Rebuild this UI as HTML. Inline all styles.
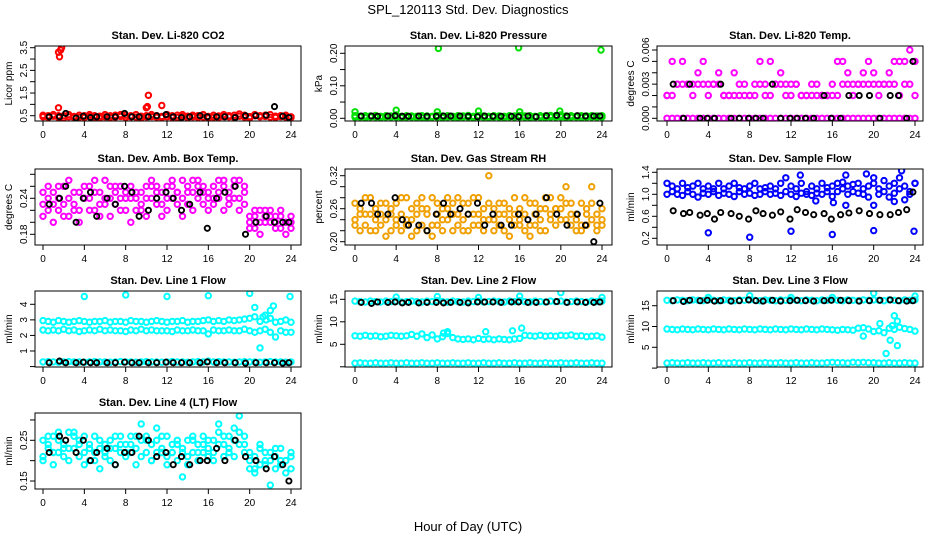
<!DOCTYPE html>
<html><head><meta charset="utf-8">
<style>
html,body{margin:0;padding:0;background:#fff;}
svg{display:block;font-family:"Liberation Sans",Arial,sans-serif;}
</style></head>
<body>
<svg id="chart" width="936" height="540" viewBox="0 0 936 540">
<text x="468" y="14" text-anchor="middle" font-size="13">SPL_120113  Std. Dev. Diagnostics</text>
<text x="468" y="531" text-anchor="middle" font-size="13">Hour of Day (UTC)</text>
</svg>
<script>
const hours=[0,0.5,1,1.5,2,2.5,3,3.5,4,4.5,5,5.5,6,6.5,7,7.5,8,8.5,9,9.5,10,10.5,11,11.5,12,12.5,13,13.5,14,14.5,15,15.5,16,16.5,17,17.5,18,18.5,19,19.5,20,20.5,21,21.5,22,22.5,23,23.5,24];
const blackHours=[0.6,1.6,2.2,3.2,3.9,4.6,5.2,6.2,7.0,7.9,8.6,9.3,10.2,11.0,11.9,12.6,13.4,14.2,15.2,15.9,16.8,17.6,18.6,19.6,20.6,21.6,22.4,23.2,23.8];
const xTicks=[0,4,8,12,16,20,24];

// Panel 1 CO2
const co2A=[0.45,0.5,0.48,0.42,0.5,0.45,0.47,0.43,0.5,0.46,0.44,0.48,0.45,0.5,0.43,0.47,0.52,0.45,0.44,0.48,0.5,0.46,0.43,0.47,0.45,0.5,0.42,0.46,0.48,0.45,0.5,0.44,0.47,0.43,0.49,0.46,0.45,0.52,0.48,0.44,0.46,0.5,0.45,0.47,0.43,0.48,0.46,0.44,0.45];
const co2B=[0.52,0.42,0.55,0.5,0.4,0.55,0.42,0.52,0.42,0.55,0.5,0.4,0.55,0.42,0.52,0.55,0.42,0.5,0.55,0.4,0.45,0.55,0.5,0.42,0.55,0.42,0.52,0.55,0.4,0.52,0.42,0.55,0.4,0.52,0.42,0.55,0.5,0.42,0.58,0.52,0.4,0.55,0.5,0.52,0.55,0.42,0.5,0.52,0.42];
const co2OutH=[1.5,1.6,1.7,1.8,1.5,10,10.2,11.5,10.1];
const co2OutV=[3.3,3.1,3.4,3.5,0.85,0.85,1.4,0.95,0.9];
const co2Black=[0.45,0.45,0.6,0.4,0.48,0.42,0.45,0.45,0.45,0.6,0.45,0.45,0.45,0.5,0.55,0.45,0.42,0.45,0.5,0.45,0.45,0.45,0.42,0.5,0.5,0.52,0.9,0.48,0.42];
// Panel 2 Pressure
const presA=[0.008,0.006,0.008,0.007,0.009,0.006,0.008,0.007,0.01,0.006,0.008,0.007,0.006,0.008,0.007,0.006,0.009,0.007,0.008,0.006,0.008,0.007,0.009,0.006,0.008,0.007,0.006,0.008,0.007,0.006,0.008,0.007,0.009,0.007,0.008,0.006,0.008,0.007,0.009,0.008,0.01,0.007,0.008,0.006,0.008,0.007,0.008,0.007,0.008];
const presB=[0.003,0.004,0.002,0.004,0.003,0.002,0.004,0.003,0.004,0.002,0.003,0.004,0.002,0.003,0.001,0.004,0.003,0.002,0.004,0.003,0.002,0.004,0.003,0.002,0.004,0.003,0.002,0.004,0.003,0.002,0.004,0.003,0.004,0.003,0.002,0.004,0.003,0.002,0.004,0.003,0.004,0.002,0.003,0.004,0.002,0.003,0.004,0.003,0.004];
const presOutH=[0,4,8,8.1,12,15.9,16,19.9,23.9];
const presOutV=[0.02,0.025,0.02,0.215,0.022,0.217,0.02,0.022,0.21];
const presBlack=[0.007,0.007,0.006,0.007,0.008,0.006,0.006,0.007,0.006,0.006,0.007,0.007,0.007,0.006,0.005,0.007,0.006,0.006,0.006,0.005,0.007,0.005,0.008,0.009,0.007,0.008,0.007,0.007,0.007];
// Panel 3 Temp
const tempA=[0,0,0,0,0,0,0,0,0,0,0,0,0,0,0,0,0,0,0,0,0,0,0,0,0,0,0,0,0,0,0,0,0,0,0,0,0,0,0,0,0,0,0,0,0,0,0,0,0];
const tempB=[0.002,0.002,0.003,0.003,0.003,0.003,0.003,0.003,0.003,0.003,0.003,0.002,0.002,0.002,0.002,0.003,0.002,0.002,0.003,0.003,0.002,0.003,0.003,0.003,0.003,0.003,0.002,0.002,0.003,0.002,0.002,0.002,0.002,0.002,0.003,0.003,0.003,0.003,0.003,0.003,0.003,0.003,0.003,0.003,0.003,0.002,0.003,0.003,0.002];
const tempC=[0.002,0.005,0.003,0.005,0.003,0.002,0.004,0.005,0.002,0.003,0.004,0.002,0.002,0.004,0.003,0.002,0.002,0.003,0.005,0.002,0.005,0.003,0.004,0.002,0.002,0.003,0.002,0.002,0.002,0.003,0.002,0.002,0.003,0.005,0.005,0.004,0.002,0.003,0.004,0.005,0.004,0.002,0.003,0.004,0.005,0.005,0.005,0.006,0.005];
const tempBlack=[0.003,0,0.003,0,0,0,0.003,0,0,0,0,0,0.003,0,0,0,0,0,0.002,0,0,0.002,0.002,0.002,0,0.002,0.002,0,0.005];
// Panel 4 Box Temp
const boxA=[0.23,0.24,0.25,0.22,0.26,0.24,0.23,0.25,0.26,0.24,0.22,0.25,0.27,0.24,0.23,0.26,0.25,0.24,0.22,0.25,0.26,0.24,0.25,0.23,0.26,0.24,0.25,0.27,0.23,0.25,0.24,0.26,0.25,0.23,0.24,0.26,0.25,0.24,0.27,0.25,0.2,0.21,0.2,0.22,0.2,0.21,0.19,0.2,0.21];
const boxB=[0.25,0.22,0.23,0.26,0.23,0.21,0.25,0.22,0.24,0.26,0.25,0.23,0.24,0.26,0.25,0.22,0.24,0.26,0.25,0.23,0.24,0.26,0.23,0.25,0.24,0.26,0.23,0.24,0.25,0.27,0.26,0.23,0.24,0.26,0.25,0.27,0.23,0.26,0.24,0.23,0.21,0.19,0.22,0.2,0.21,0.19,0.22,0.2,0.19];
const boxC=[0.21,0.26,0.2,0.24,0.21,0.27,0.22,0.2,0.24,0.22,0.27,0.21,0.23,0.21,0.26,0.24,0.22,0.2,0.24,0.22,0.21,0.27,0.26,0.21,0.22,0.27,0.25,0.21,0.26,0.22,0.27,0.25,0.22,0.24,0.27,0.22,0.24,0.27,0.22,0.26,0.19,0.22,0.18,0.21,0.22,0.2,0.21,0.18,0.2];
const boxBlack=[0.23,0.24,0.26,0.2,0.24,0.25,0.21,0.24,0.23,0.26,0.25,0.21,0.22,0.24,0.25,0.24,0.22,0.23,0.25,0.19,0.24,0.25,0.26,0.18,0.2,0.21,0.2,0.2,0.2];
// Panel 5 RH
const rhA=[0.24,0.26,0.23,0.25,0.22,0.27,0.24,0.26,0.23,0.25,0.28,0.24,0.22,0.26,0.25,0.23,0.27,0.24,0.26,0.22,0.25,0.24,0.27,0.23,0.25,0.26,0.24,0.22,0.25,0.27,0.24,0.23,0.26,0.25,0.23,0.27,0.24,0.26,0.25,0.23,0.26,0.24,0.27,0.25,0.23,0.26,0.24,0.25,0.23];
const rhB=[0.27,0.22,0.25,0.28,0.26,0.23,0.21,0.25,0.27,0.22,0.24,0.26,0.27,0.23,0.22,0.28,0.23,0.26,0.28,0.25,0.23,0.27,0.22,0.25,0.28,0.22,0.27,0.26,0.23,0.22,0.26,0.28,0.23,0.22,0.27,0.23,0.26,0.22,0.28,0.26,0.24,0.27,0.23,0.22,0.27,0.23,0.27,0.22,0.26];
const rhC=[0.23,0.25,0.28,0.22,0.24,0.25,0.27,0.22,0.24,0.28,0.23,0.21,0.25,0.28,0.26,0.21,0.25,0.22,0.24,0.27,0.28,0.22,0.25,0.28,0.23,0.24,0.32,0.24,0.27,0.25,0.21,0.25,0.24,0.28,0.21,0.25,0.22,0.28,0.24,0.26,0.28,0.3,0.25,0.24,0.22,0.25,0.3,0.23,0.24];
const rhBlack=[0.27,0.27,0.25,0.25,0.28,0.24,0.23,0.23,0.22,0.25,0.27,0.25,0.26,0.25,0.27,0.23,0.25,0.23,0.23,0.25,0.24,0.25,0.28,0.25,0.23,0.25,0.23,0.2,0.27];
// Panel 6 Sample Flow
const sfA=[1.2,1.15,1.1,1.2,1.05,1.15,1.2,1.1,1.15,1.05,1.2,1.1,1.15,1.2,1.05,1.1,1.15,1.2,1.1,1.05,1.15,1.1,1.2,1.05,1.15,1.1,1.2,1.05,1.15,1.1,1.2,1.05,1.15,1.2,1.1,1.15,1.05,1.2,1.1,1.15,1.2,1.1,1.05,1.15,1.2,1.1,1.15,1.05,1.2];
const sfB=[1.0,1.05,1.0,0.98,1.12,1.0,0.95,1.02,1.0,1.1,0.98,1.02,1.0,0.96,1.12,1.0,1.02,0.98,1.0,1.12,1.0,1.02,0.98,1.3,1.0,0.96,1.02,1.0,0.98,1.02,1.0,1.12,0.96,1.05,1.22,1.0,1.18,1.02,1.0,0.95,1.3,1.0,1.25,0.95,1.02,1.3,0.9,1.0,1.2];
const sfOutH=[4,8,12,16,20,23.9,12.9,17.3,19.3,22.7,14.4,16.1,17.3,22,20];
const sfOutV=[0.3,0.22,0.33,0.27,0.34,0.33,1.35,1.35,1.37,1.43,0.88,0.85,0.8,0.87,0.8];
const sfBlack=[0.7,0.65,0.67,0.62,0.65,0.55,0.67,0.65,0.6,0.55,0.7,0.65,0.62,0.68,0.55,0.72,0.67,0.63,0.65,0.55,0.63,0.66,0.7,0.65,0.63,0.63,0.67,0.72,1.04];
// Panel 7 Line 1
const l1A=[2.95,2.9,2.85,2.95,2.9,2.85,2.9,2.95,2.9,2.85,2.9,2.9,2.95,2.85,2.9,2.9,2.85,2.95,2.9,2.9,2.85,2.9,2.95,2.9,2.85,2.9,2.9,2.95,2.85,2.9,2.9,2.95,3.0,2.9,2.95,2.9,3.0,2.95,3.0,3.05,3.1,3.2,2.9,3.3,3.1,2.85,2.9,3.0,2.85];
const l1B=[2.35,2.3,2.35,2.3,2.4,2.3,2.35,2.25,2.3,2.35,2.3,2.4,2.3,2.35,2.3,2.3,2.25,2.35,2.3,2.4,2.3,2.35,2.3,2.3,2.3,2.25,2.35,2.3,2.3,2.35,2.3,2.3,2.1,2.35,2.3,2.3,2.35,2.3,2.3,2.4,2.3,2.2,2.3,2.4,2.2,1.9,2.3,2.2,2.2];
const l1C=[0.3,0.32,0.3,0.28,0.3,0.32,0.3,0.3,0.28,0.3,0.32,0.3,0.3,0.28,0.3,0.32,0.3,0.3,0.28,0.3,0.32,0.3,0.3,0.28,0.3,0.32,0.3,0.3,0.28,0.3,0.32,0.3,0.35,0.3,0.32,0.3,0.3,0.28,0.3,0.32,0.3,0.3,0.28,0.3,0.32,0.3,0.3,0.28,0.3];
const l1OutH=[4,8,12,16,20,23.9,20.5,21,21.3,21.6,22,22.3];
const l1OutV=[4.5,4.6,4.5,4.55,4.7,4.5,3.8,1.2,3.2,3.0,3.6,3.9];
const l1Black=[0.25,0.35,0.25,0.25,0.28,0.25,0.25,0.25,0.25,0.28,0.25,0.25,0.25,0.25,0.28,0.25,0.25,0.25,0.25,0.3,0.25,0.25,0.25,0.22,0.25,0.25,0.25,0.22,0.25];
// Panel 8 Line 2
const l2A=[14.6,14.5,14.4,14.6,14.5,14.4,14.6,14.5,14.6,14.4,14.5,14.6,14.5,14.4,14.6,14.5,14.7,14.5,14.4,14.6,14.5,14.4,14.6,14.5,14.6,14.4,14.5,14.6,14.5,14.4,14.6,14.5,14.7,14.5,14.4,14.6,14.5,14.4,14.6,14.5,14.6,14.4,14.5,14.6,14.5,14.4,14.6,14.5,14.6];
const l2B=[6.9,6.8,7.0,6.8,6.9,6.7,6.8,7.0,6.9,6.8,6.9,7.2,6.8,7.3,6.5,7.1,6.2,6.7,7.4,6.5,6.2,6.1,6.2,6.0,6.3,6.1,6.2,6.0,6.2,6.1,6.0,6.2,6.3,7.0,6.9,6.8,7.0,6.8,6.9,6.8,7.0,6.9,7.1,6.8,6.9,6.7,6.8,6.9,6.6];
const l2C=[0.8,0.9,0.8,0.8,0.9,0.8,0.8,0.9,0.8,0.8,0.9,0.8,0.8,0.9,0.8,0.8,0.9,0.8,0.8,0.9,0.8,0.8,0.9,0.8,0.8,0.9,0.8,0.8,0.9,0.8,0.8,0.9,0.8,0.8,0.9,0.8,0.8,0.9,0.8,0.8,0.9,0.8,0.8,0.9,0.8,0.8,0.9,0.8,0.8];
const l2OutH=[4,8,12,16,20,24,8.6,9,12.7,15.3,16.2];
const l2OutV=[15.5,15.6,15.4,15.7,16.5,15.4,7.5,7.8,7.8,8.0,8.6];
const l2Black=[14.3,14.1,14.4,14.3,14.4,14.2,14.3,14.2,14.3,14.3,14.2,14.3,14.3,14.2,14.4,14.4,14.4,14.3,14.4,14.4,14.3,14.3,14.4,14.5,14.3,14.4,14.3,14.3,14.4];
// Panel 9 Line 3
const l3A=[16.3,16.2,16.4,16.3,16.2,16.4,16.3,16.2,16.4,16.3,16.2,16.4,16.3,16.2,16.4,16.3,16.4,16.3,16.2,16.4,16.3,16.2,16.4,16.3,16.4,16.3,16.2,16.4,16.3,16.2,16.4,16.3,16.4,16.3,16.2,16.4,16.3,16.2,16.4,16.3,16.4,16.3,16.2,16.4,16.3,16.2,16.4,16.3,16.4];
const l3B=[9.4,9.3,9.2,9.4,9.3,9.2,9.4,9.3,9.2,9.4,9.3,9.2,9.4,9.3,9.2,9.4,9.3,9.2,9.4,9.3,9.2,9.4,9.3,9.2,9.4,9.3,9.2,9.4,9.3,9.2,9.4,9.3,9.2,9.1,9.3,9.2,9.1,9.6,9.7,9.4,8.8,9.0,8.5,9.6,9.3,9.8,9.5,9.3,8.9];
const l3C=[1.2,1.3,1.2,1.2,1.3,1.2,1.2,1.3,1.2,1.2,1.3,1.2,1.2,1.3,1.2,1.2,1.3,1.2,1.2,1.3,1.2,1.2,1.3,1.2,1.2,1.3,1.2,1.2,1.3,1.2,1.2,1.3,1.4,1.3,1.3,1.2,1.4,1.3,1.4,1.3,1.3,1.2,1.2,1.3,1.2,1.2,1.3,1.2,1.2];
const l3OutH=[4,8,12,16,20,24,19,20.6,21.6,21.2,22,22.3,22.3,21.8];
const l3OutV=[17,17.4,17,17,18,17.3,7.7,10.7,6.7,3.5,12.6,11.3,5.4,10.2];
const l3Black=[16.2,16,16.3,16.2,16.3,16.1,16.2,16.1,16.2,16.4,16.2,16.1,16.3,16.1,16.2,16.3,16.2,16.1,16.2,16.3,16.3,16.2,16.1,16.2,16.3,16.4,16.2,16.1,16.2];
// Panel 10 Line 4
const l4A=[0.25,0.23,0.26,0.22,0.24,0.27,0.23,0.25,0.22,0.24,0.26,0.23,0.21,0.25,0.23,0.22,0.24,0.26,0.23,0.25,0.22,0.24,0.25,0.23,0.26,0.22,0.24,0.23,0.25,0.22,0.24,0.26,0.23,0.25,0.27,0.24,0.26,0.25,0.27,0.22,0.2,0.21,0.19,0.22,0.2,0.21,0.19,0.2,0.21];
const l4B=[0.21,0.26,0.22,0.25,0.21,0.23,0.26,0.21,0.26,0.2,0.22,0.25,0.24,0.2,0.26,0.24,0.21,0.22,0.26,0.21,0.25,0.2,0.22,0.26,0.21,0.24,0.2,0.22,0.21,0.25,0.2,0.22,0.25,0.22,0.24,0.21,0.22,0.28,0.24,0.26,0.22,0.18,0.23,0.19,0.22,0.18,0.23,0.2,0.18];
const l4C=[0.2,0.24,0.19,0.27,0.23,0.2,0.27,0.24,0.19,0.23,0.2,0.18,0.22,0.23,0.19,0.26,0.22,0.24,0.19,0.29,0.26,0.2,0.28,0.22,0.19,0.22,0.25,0.16,0.19,0.26,0.22,0.24,0.21,0.2,0.29,0.26,0.23,0.21,0.31,0.24,0.18,0.17,0.24,0.2,0.14,0.23,0.2,0.17,0.22];
const l4Black=[0.22,0.26,0.25,0.22,0.25,0.2,0.22,0.23,0.19,0.22,0.22,0.26,0.25,0.21,0.22,0.19,0.21,0.19,0.2,0.2,0.23,0.2,0.25,0.21,0.2,0.18,0.21,0.19,0.15];

const NS='http://www.w3.org/2000/svg';
const svg=document.getElementById('chart');
function mk(tag,attrs,parent){const e=document.createElementNS(NS,tag);for(const k in attrs)e.setAttribute(k,attrs[k]);(parent||svg).appendChild(e);return e;}

const colX=[[35,301,43,291],[345,612,355,602],[657,923,667,915]];
const rowY=[[46,121],[169,245],[291,367],[413,489]];

const panels=[
 {name:'co2',title:'Stan. Dev. Li-820 CO2',ylab:'Licor ppm',c:0,r:0,v1:0.5,p1:115.7,v2:3.5,p2:47.7,ticks:[0.5,1,1.5,2,2.5,3,3.5],labels:[0.5,1.5,2.5,3.5],dec:1,col:'#ff0000',series:[co2A,co2B],outH:co2OutH,outV:co2OutV,black:co2Black},
 {name:'pressure',title:'Stan. Dev. Li-820 Pressure',ylab:'kPa',c:1,r:0,v1:0,p1:118.3,v2:0.2,p2:53.3,ticks:[0,0.05,0.1,0.15,0.2],labels:[0,0.1,0.2],dec:2,col:'#00e000',series:[presA,presB],outH:presOutH,outV:presOutV,black:presBlack},
 {name:'li820-temp',title:'Stan. Dev. Li-820 Temp.',ylab:'degrees C',c:2,r:0,v1:0,p1:118.3,v2:0.006,p2:50,ticks:[0,0.001,0.002,0.003,0.004,0.005,0.006],labels:[0,0.003,0.006],dec:3,col:'#ff00ff',series:[tempA,tempB,tempC],outH:[],outV:[],black:tempBlack},
 {name:'box-temp',title:'Stan. Dev. Amb. Box Temp.',ylab:'degrees C',c:0,r:1,v1:0.18,p1:234.3,v2:0.24,p2:198.3,ticks:[0.18,0.2,0.22,0.24,0.26,0.28],labels:[0.18,0.24],dec:2,col:'#ff00ff',series:[boxA,boxB,boxC],outH:[],outV:[],black:boxBlack},
 {name:'gas-rh',title:'Stan. Dev. Gas Stream RH',ylab:'percent',c:1,r:1,v1:0.2,p1:241.7,v2:0.32,p2:175.7,ticks:[0.2,0.22,0.24,0.26,0.28,0.3,0.32],labels:[0.2,0.26,0.32],dec:2,col:'#f0a000',series:[rhA,rhB,rhC],outH:[],outV:[],black:rhBlack},
 {name:'sample-flow',title:'Stan. Dev. Sample Flow',ylab:'ml/min',c:2,r:1,v1:0.2,p1:238.3,v2:1.4,p2:172.3,ticks:[0.2,0.4,0.6,0.8,1.0,1.2,1.4],labels:[0.2,0.6,1.0,1.4],dec:1,col:'#0000ff',series:[sfA,sfB],outH:sfOutH,outV:sfOutV,black:sfBlack},
 {name:'line1-flow',title:'Stan. Dev. Line 1 Flow',ylab:'ml/min',c:0,r:2,v1:1,p1:351,v2:4,p2:304.3,ticks:[0,1,2,3,4],labels:[1,2,3,4],dec:0,col:'#00ffff',series:[l1A,l1B,l1C],outH:l1OutH,outV:l1OutV,black:l1Black},
 {name:'line2-flow',title:'Stan. Dev. Line 2 Flow',ylab:'ml/min',c:1,r:2,v1:5,p1:344.3,v2:15,p2:299.3,ticks:[0,5,10,15],labels:[5,10,15],dec:0,col:'#00ffff',series:[l2A,l2B,l2C],outH:l2OutH,outV:l2OutV,black:l2Black},
 {name:'line3-flow',title:'Stan. Dev. Line 3 Flow',ylab:'ml/min',c:2,r:2,v1:5,p1:347.3,v2:15,p2:305.7,ticks:[0,5,10,15],labels:[5,10,15],dec:0,col:'#00ffff',series:[l3A,l3B,l3C],outH:l3OutH,outV:l3OutV,black:l3Black},
 {name:'line4-flow',title:'Stan. Dev. Line 4 (LT) Flow',ylab:'ml/min',c:0,r:3,v1:0.15,p1:481,v2:0.25,p2:440.3,ticks:[0.15,0.2,0.25,0.3],labels:[0.15,0.25],dec:2,col:'#00ffff',series:[l4A,l4B,l4C],outH:[],outV:[],black:l4Black}
];

panels.forEach(p=>{
  const [bx0,bx1,dx0,dx24]=colX[p.c];
  const [by0,by1]=rowY[p.r];
  const xs=h=>dx0+(h/24)*(dx24-dx0);
  const ys=v=>p.p1+(v-p.v1)*(p.p2-p.p1)/(p.v2-p.v1);
  const g=mk('g',{});
  
  
  const t=mk('text',{x:(bx0+bx1)/2,y:by0-7,'text-anchor':'middle','font-size':'11','font-weight':'bold'},g);
  t.textContent=p.title;
  
  
  const yl=mk('text',{x:0,y:0,'text-anchor':'middle','font-size':'10',transform:`translate(${bx0-23},${(by0+by1)/2}) rotate(-90)`},g);
  yl.textContent=p.ylab;
  
  
  const clip='clip-'+p.name;
  const cp=mk('clipPath',{id:clip},g);
  mk('rect',{x:bx0,y:by0,width:bx1-bx0,height:by1-by0},cp);
  const pts=mk('g',{'clip-path':`url(#${clip})`,fill:'none'},g);
  
  
  p.series.forEach(s=>{
    s.forEach((v,i)=>{
      const c=mk('circle',{cx:xs(hours[i]).toFixed(1),cy:ys(v).toFixed(1),r:2.7,stroke:p.col,'stroke-width':2},pts);
      
      
    });
  });
  p.outH.forEach((h,i)=>{
    const c=mk('circle',{cx:xs(h).toFixed(1),cy:ys(p.outV[i]).toFixed(1),r:2.7,stroke:p.col,'stroke-width':2},pts);
    
    
  });
  p.black.forEach((v,i)=>{
    const c=mk('circle',{cx:xs(blackHours[i]).toFixed(1),cy:ys(v).toFixed(1),r:2.6,stroke:'#000','stroke-width':1.9},pts);
    
    
  });
  const box=mk('rect',{x:bx0,y:by0,width:bx1-bx0,height:by1-by0,fill:'none',stroke:'#000','stroke-width':1},g);
  
  
  mk('line',{x1:xs(0),x2:xs(24),y1:by1,y2:by1,stroke:'#000'},g);
  xTicks.forEach(h=>{
    mk('line',{x1:xs(h),x2:xs(h),y1:by1,y2:by1+5,stroke:'#000'},g);
    const tl=mk('text',{x:xs(h),y:by1+17,'text-anchor':'middle','font-size':'10'},g);
    tl.textContent=h;
    
    
  });
  const tv=p.ticks.filter(v=>ys(v)>=by0-1&&ys(v)<=by1+2);
  mk('line',{x1:bx0,x2:bx0,y1:ys(tv[0]),y2:ys(tv[tv.length-1]),stroke:'#000'},g);
  p.ticks.forEach(v=>{
    const y=ys(v); if(y<by0-1||y>by1+2) return;
    mk('line',{x1:bx0-5,x2:bx0,y1:y,y2:y,stroke:'#000'},g);
  });
  p.labels.forEach(v=>{
    const yl2=mk('text',{x:0,y:0,'text-anchor':'middle','font-size':'10',transform:`translate(${bx0-8},${ys(v)}) rotate(-90)`},g);
    yl2.textContent=v.toFixed(p.dec);
    
    
  });
});
</script>
</body></html>
